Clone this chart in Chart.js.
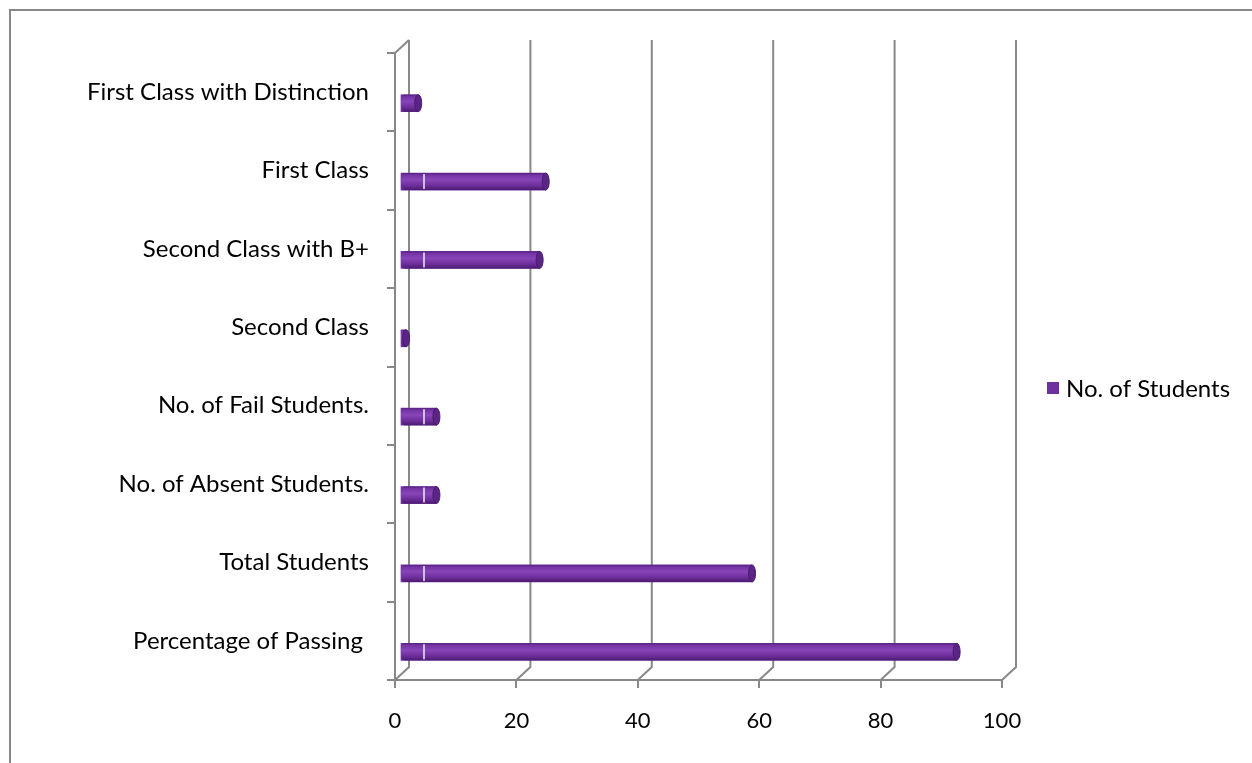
<!DOCTYPE html>
<html>
<head>
<meta charset="utf-8">
<script src="https://cdn.jsdelivr.net/npm/chart.js@4.4.0/dist/chart.umd.min.js"></script>
<style>
  html, body { margin: 0; padding: 0; background: #fff; }
  canvas { display: block; }
</style>
</head>
<body>
<canvas id="myChart" width="1252" height="763"></canvas>
<script>
// datos del grafico (de arriba hacia abajo)
var categorias = ['First Class with Distinction', 'First Class', 'Second Class with B+', 'Second Class',
    'No. of Fail Students.', 'No. of Absent Students.', 'Total Students', 'Percentage of Passing ']
var estudiantes = [3, 24, 23, 1, 6, 6, 58, 91.7]
var ticks_x = [0, 20, 40, 60, 80, 100]
var nombre_serie = 'No. of Students'

var gris = '#888888'
var morado = '#7030a0'
var fuente = 'Lato, "Open Sans", sans-serif'
var fondo3d = { dx: 14, dy: -13 }     // profundidad de la caja 3d
var desfase = { dx: 5, dy: 11 }       // las barras quedan un poco adentro

// marco exterior
var marco = {
    id: 'marco',
    beforeDraw(chart) {
        let c = chart.ctx
        c.save()
        c.fillStyle = '#fff'
        c.fillRect(0, 0, chart.width, chart.height)
        c.strokeStyle = gris
        c.lineWidth = 2
        c.strokeRect(10, 10, chart.width + 50, chart.height + 50)
        c.restore()
    }
}

// pared del fondo, lineas de la grilla y barras tipo cilindro
var caja3d = {
    id: 'caja3d',
    beforeDatasetsDraw(chart) {
        let c = chart.ctx, a = chart.chartArea, x = chart.scales.x
        c.save()
        c.strokeStyle = gris
        c.lineWidth = 2
        ticks_x.forEach(v => {
            let px = x.getPixelForValue(v)
            c.beginPath()
            c.moveTo(px + fondo3d.dx, a.top + fondo3d.dy)
            c.lineTo(px + fondo3d.dx, a.bottom + fondo3d.dy)
            c.lineTo(px, a.bottom)
            c.stroke()
        })
        c.beginPath()
        c.moveTo(a.left, a.top)
        c.lineTo(a.left + fondo3d.dx, a.top + fondo3d.dy)
        c.stroke()
        c.restore()

        c.save()
        c.translate(desfase.dx, desfase.dy)
    },
    afterDatasetsDraw(chart) {
        let c = chart.ctx
        let meta = chart.getDatasetMeta(0)
        meta.data.forEach(bar => {
            let x0 = bar.base, x1 = bar.x, yc = bar.y, r = bar.height / 2
            let g = c.createLinearGradient(0, yc - r, 0, yc + r)
            g.addColorStop(0, '#52207a')
            g.addColorStop(0.12, '#7434a6')
            g.addColorStop(0.4, '#8745b8')
            g.addColorStop(0.75, '#6c2d9a')
            g.addColorStop(1, '#4a1b6e')
            c.fillStyle = g
            c.beginPath()
            c.ellipse(x0 + 3, yc, 3, r, 0, Math.PI / 2, Math.PI * 1.5)
            c.lineTo(x1, yc - r)
            c.lineTo(x1, yc + r)
            c.closePath()
            c.fill()
            // tapa del extremo
            c.beginPath()
            c.ellipse(x1, yc, 3.5, r, 0, 0, Math.PI * 2)
            c.fillStyle = '#5a2585'
            c.fill()
            c.strokeStyle = '#4a1b6e'
            c.lineWidth = 1
            c.stroke()
            // brillo blanco
            if (x1 - x0 > 30) {
                c.beginPath()
                c.moveTo(x0 + 23, yc - r + 1)
                c.lineTo(x0 + 23, yc + r - 1)
                c.strokeStyle = 'rgba(255,255,255,0.9)'
                c.lineWidth = 1.5
                c.stroke()
            }
        })
        c.restore()
    }
}

// leyenda a la derecha
var leyenda = {
    id: 'leyenda',
    afterDraw(chart) {
        let c = chart.ctx, a = chart.chartArea
        let ds = chart.data.datasets[0]
        let x = a.right + 45
        let y = 388
        c.save()
        c.fillStyle = ds.borderColor
        c.fillRect(x, y - 6, 12, 12)
        c.fillStyle = '#000'
        c.font = '24px ' + fuente
        c.textBaseline = 'middle'
        c.fillText(ds.label, x + 19, y + 1)
        c.restore()
    }
}

var ctx = document.getElementById('myChart')
var grafico = new Chart(ctx, {
    type: 'bar',
    data: {
        labels: categorias,
        datasets: [{
            label: nombre_serie,
            data: estudiantes,
            backgroundColor: morado,
            borderColor: morado,
            borderWidth: 0,
            barThickness: 17,
            clip: false
        }]
    },
    options: {
        indexAxis: 'y',
        responsive: false,
        animation: false,
        events: [],
        layout: { padding: { top: 53, right: 250, left: 0, bottom: 0 } },
        plugins: {
            legend: { display: false },
            tooltip: { enabled: false }
        },
        scales: {
            x: {
                min: 0,
                max: 100,
                afterFit(s) { s.height = 83 },
                afterBuildTicks(s) { s.ticks = ticks_x.map(v => ({ value: v })) },
                grid: { drawOnChartArea: false, color: gris, lineWidth: 2, tickLength: 8 },
                border: { display: true, color: gris, width: 2 },
                ticks: { color: '#000', padding: 20, font: { family: fuente, size: 22 } }
            },
            y: {
                afterFit(s) { s.width = 395 },
                grid: { drawOnChartArea: false, color: gris, lineWidth: 2, tickLength: 8, offset: true },
                border: { display: true, color: gris, width: 2 },
                ticks: { color: '#000', padding: 18, font: { family: fuente, size: 24 } }
            }
        }
    },
    plugins: [marco, caja3d, leyenda]
})
</script>
</body>
</html>
